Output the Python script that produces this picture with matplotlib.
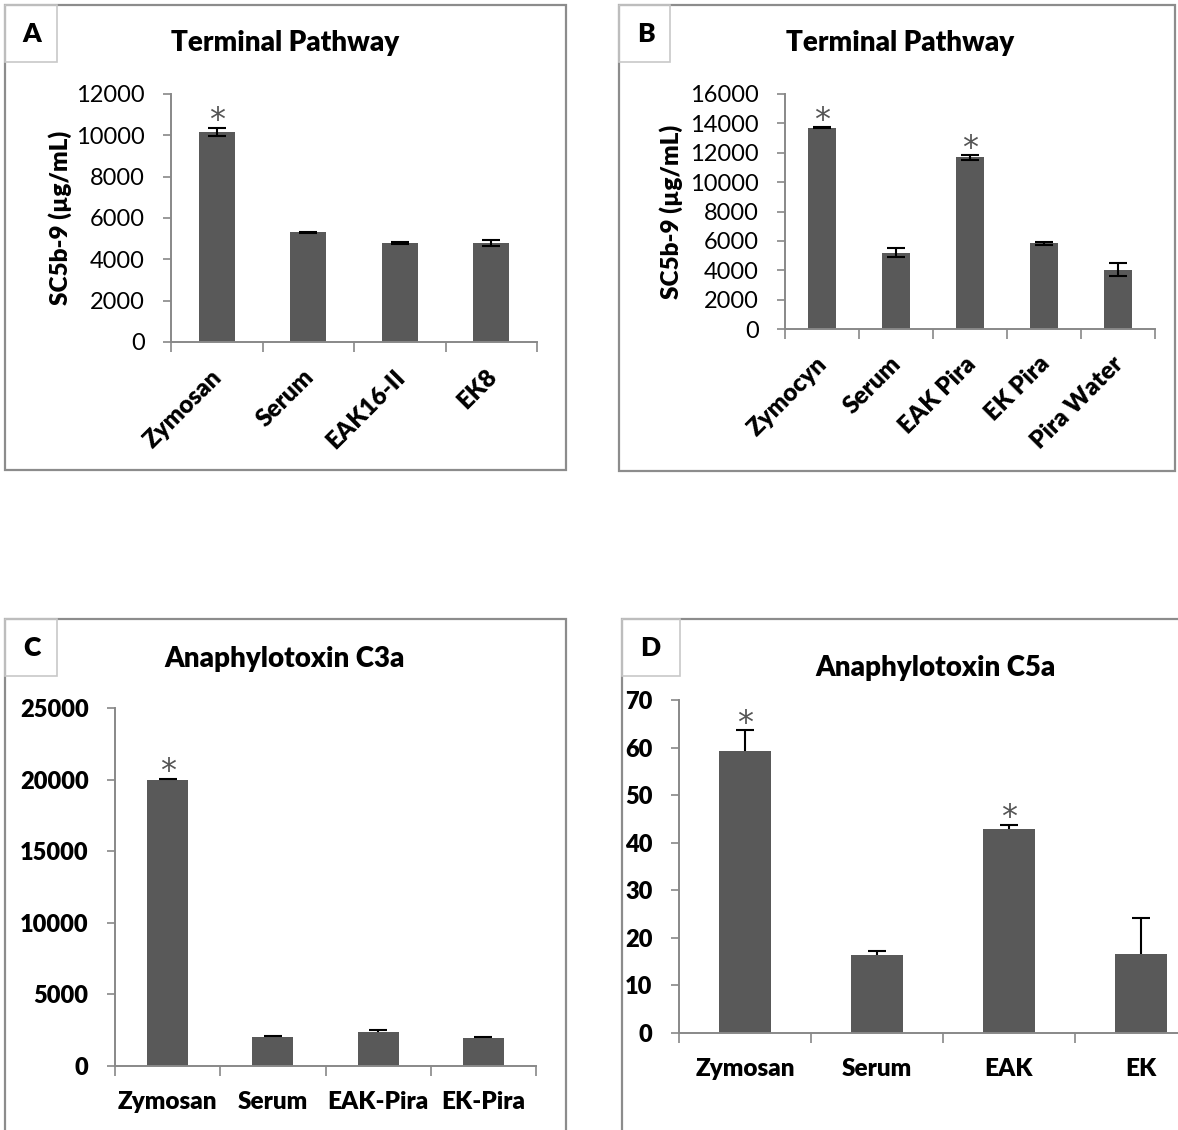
import matplotlib
matplotlib.use("Agg")
import matplotlib.pyplot as plt
from matplotlib.patches import Rectangle
from matplotlib.font_manager import FontProperties
from matplotlib.transforms import ScaledTranslation
import numpy as np

plt.rcParams['font.family'] = ['Lato', 'DejaVu Sans']

# ---- data -------------------------------------------------------------
a_cats = ["Zymosan", "Serum", "EAK16-II", "EK8"]
a_vals = [10150, 5300, 4780, 4800]
a_err = [200, 30, 40, 150]
a_sig = [True, False, False, False]
a_ticks = [0, 2000, 4000, 6000, 8000, 10000, 12000]

b_cats = ["Zymocyn", "Serum", "EAK Pira", "EK Pira", "Pira Water"]
b_vals = [13700, 5200, 11680, 5850, 4030]
b_err = [30, 300, 150, 100, 430]
b_sig = [True, False, True, False, False]
b_ticks = [0, 2000, 4000, 6000, 8000, 10000, 12000, 14000, 16000]

c_cats = ["Zymosan", "Serum", "EAK-Pira", "EK-Pira"]
c_vals = [19950, 2000, 2400, 1970]
c_err = [100, 120, 100, 70]
c_sig = [True, False, False, False]
c_ticks = [0, 5000, 10000, 15000, 20000, 25000]

d_cats = ["Zymosan", "Serum", "EAK", "EK"]
d_vals = [59.2, 16.5, 42.9, 16.6]
d_err = [4.4, 0.7, 0.8, 7.5]
d_sig = [True, False, True, False]
d_ticks = [0, 10, 20, 30, 40, 50, 60, 70]

ylabel_sc = "SC5b-9 (µg/mL)"

BAR = "#595959"
AXIS = "#888888"
FRAME = "#8c8c8c"
LABELFRAME = "#c8c8c8"
HEAVY = 800

W, H = 1178, 1130
fig = plt.figure(figsize=(W / 100, H / 100), dpi=100)


def fp(size, bold):
    return FontProperties(family=['Lato', 'DejaVu Sans'], size=size,
                          weight=HEAVY if bold else "normal")


def px_axes(left, right, top, bottom):
    """Axes rectangle given in pixel coordinates (origin top-left)."""
    return fig.add_axes([left / W, 1 - bottom / H, (right - left) / W, (bottom - top) / H])


def frame(x0, y0, x1, y1, color=FRAME, lw=1.6):
    fig.patches.append(Rectangle((x0 / W, 1 - y1 / H), (x1 - x0) / W, (y1 - y0) / H,
                                 transform=fig.transFigure, fill=False,
                                 edgecolor=color, linewidth=lw, zorder=0))


def fig_text(x, y, s, size):
    fig.text(x / W, 1 - y / H, s, ha="center", va="center", fontproperties=fp(size, True))


label_styles = []  # (axes, y tick font, x tick font, rotated)


def panel(ax, cats, vals, errs, sig, ticks, two_sided, bold_ticks, rotate, tick_fs, lab_fs):
    n = len(cats)
    x = np.arange(n)
    yerr = [errs, errs] if two_sided else [[0] * n, errs]
    ax.bar(x, vals, width=0.39, color=BAR, zorder=2)
    _, caps, _ = ax.errorbar(x, vals, yerr=yerr, fmt="none", ecolor="black",
                             elinewidth=1.5, capsize=6.5, capthick=1.5, zorder=3)
    if not two_sided:
        # only the upper whisker is shown
        caps[0].set_visible(False)
    for xi, v, e, s in zip(x, vals, errs, sig):
        if s:
            ax.annotate("*", (xi, v + e), xytext=(0, -6), textcoords="offset points",
                        ha="center", va="bottom", fontsize=23, color="#555555",
                        family="DejaVu Sans")
    ax.set_xlim(-0.5, n - 0.5)
    ax.set_ylim(0, ticks[-1])
    ax.set_yticks(ticks)
    ax.set_yticklabels([str(t) for t in ticks])
    ax.tick_params(axis="y", length=6, width=1.2, color=AXIS, pad=13)
    # category boundaries carry the tick marks
    ax.set_xticks(np.arange(n + 1) - 0.5, minor=True)
    ax.tick_params(axis="x", which="minor", length=7, width=1.2, color=AXIS)
    ax.set_xticks(x)
    if rotate:
        ax.set_xticklabels(cats, rotation=45, ha="right", va="top",
                           rotation_mode="anchor")
        ax.tick_params(axis="x", which="major", length=0, pad=17)
    else:
        ax.set_xticklabels(cats)
        ax.tick_params(axis="x", which="major", length=0, pad=18)
    for side in ("top", "right"):
        ax.spines[side].set_visible(False)
    for side in ("left", "bottom"):
        ax.spines[side].set_color(AXIS)
        ax.spines[side].set_linewidth(1.4)
    ax.set_facecolor("none")
    label_styles.append((ax, fp(tick_fs, bold_ticks), fp(lab_fs, True), rotate))


TITLE_FS = 20
LETTER_FS = 19

# ---- panel A ----------------------------------------------------------
frame(5, 5, 566, 470)
frame(5, 5, 57, 62, color=LABELFRAME, lw=1.2)
fig_text(32, 34, "A", LETTER_FS)
fig_text(285, 43, "Terminal Pathway", TITLE_FS)
axA = px_axes(171, 537, 94, 342)
panel(axA, a_cats, a_vals, a_err, a_sig, a_ticks, True, False, True, 17, 17.5)
axA.set_ylabel(ylabel_sc, fontproperties=fp(17.5, True), labelpad=3)

# ---- panel B ----------------------------------------------------------
frame(619, 5, 1175, 471)
frame(619, 5, 670, 62, color=LABELFRAME, lw=1.2)
fig_text(646, 34, "B", LETTER_FS)
fig_text(900, 43, "Terminal Pathway", TITLE_FS)
axB = px_axes(785, 1155, 94, 329)
panel(axB, b_cats, b_vals, b_err, b_sig, b_ticks, True, False, True, 17, 17.5)
axB.set_ylabel(ylabel_sc, fontproperties=fp(17.5, True), labelpad=5)

# ---- panel C ----------------------------------------------------------
frame(5, 619, 566, 1140)
frame(5, 619, 57, 676, color=LABELFRAME, lw=1.2)
fig_text(32, 648, "C", LETTER_FS)
fig_text(285, 659, "Anaphylotoxin C3a", TITLE_FS)
axC = px_axes(115, 536, 708, 1066)
panel(axC, c_cats, c_vals, c_err, c_sig, c_ticks, False, True, False, 17, 17.5)

# ---- panel D ----------------------------------------------------------
frame(622, 619, 1200, 1140)
frame(622, 619, 680, 676, color=LABELFRAME, lw=1.2)
fig_text(650, 648, "D", LETTER_FS)
fig_text(935, 668, "Anaphylotoxin C5a", TITLE_FS)
axD = px_axes(679, 1207, 700, 1033)
panel(axD, d_cats, d_vals, d_err, d_sig, d_ticks, False, True, False, 17, 17.5)

# tick label fonts are applied after a first draw so every tick object exists
fig.canvas.draw()
shift = ScaledTranslation(-6 / 100, 0, fig.dpi_scale_trans)
for ax, yfont, xfont, rotated in label_styles:
    for lbl in ax.get_yticklabels():
        lbl.set_fontproperties(yfont)
    for lbl in ax.get_xticklabels():
        lbl.set_fontproperties(xfont)
        if rotated:
            lbl.set_transform(lbl.get_transform() + shift)

fig.savefig("out.png", dpi=100, facecolor="white")
